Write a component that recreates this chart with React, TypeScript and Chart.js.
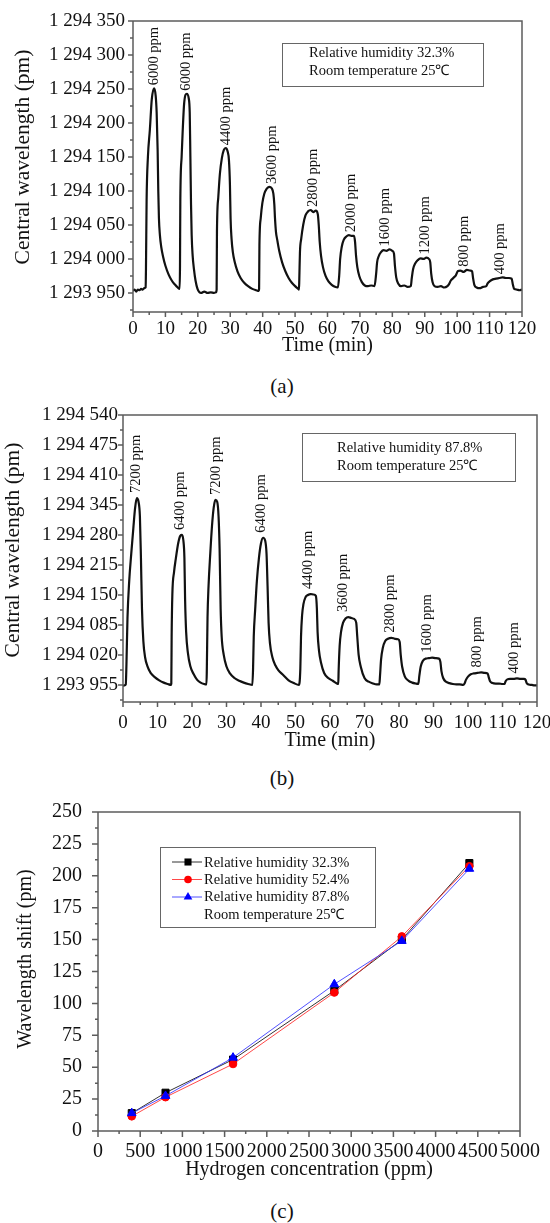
import React, { useEffect, useRef } from 'react';
import { Chart, registerables } from 'chart.js';

Chart.register(...registerables);

const SERIF = "'Liberation Serif', 'Times New Roman', Times, serif";
const INK = '#111';
const AXIS = '#5c5c5c';

Chart.defaults.font.family = SERIF;
Chart.defaults.color = INK;

// ---------- (a) relative humidity 32.3 % ----------
const timeA = [
  0, 0.5, 1, 1.5, 2, 2.5, 3, 3.5, 3.9,
  4.0, 4.2, 4.6, 5.2, 5.8, 6.5, 7.0, 7.3, 7.6, 7.8, 8.0, 8.3, 8.7, 9.3, 10, 11, 12, 13, 13.8, 14.4,
  14.5, 14.6, 15.0, 15.3, 15.8, 16.6, 17.2, 17.5, 17.7, 17.9, 18.1, 18.4, 18.8, 19.3, 19.9, 20.5,
  21, 22, 23, 24, 25, 25.6,
  25.8, 25.9, 26.3, 26.8, 27.4, 28.0, 28.6, 29.2, 29.6, 29.9, 30.1, 30.4, 30.8, 31.4, 32.2, 33.2, 34.3, 35.5, 36.8, 38.0, 38.8,
  38.9, 39.0, 39.4, 39.9, 40.5, 41.2, 42.0, 42.8, 43.3, 43.6, 43.8, 44.1, 44.5, 45.1, 46, 47, 48, 49, 50, 51, 51.2,
  51.3, 51.5, 51.9, 52.5, 53.2, 54.0, 54.8, 55.6, 56.4, 57.0, 57.3, 57.6, 58.0, 58.6, 59.4, 60.3, 61.3, 62.3, 63.2,
  63.6, 63.9, 64.4, 65.0, 65.8, 66.6, 67.4, 68.2, 68.5, 68.8, 69.2, 69.8, 70.6, 71.5, 72.5, 73.5, 74.5,
  75.0, 75.3, 75.8, 76.5, 77.3, 78.2, 79.1, 80.0, 80.5, 80.8, 81.2, 81.8, 82.7, 83.7, 84.7, 85.7,
  86.0, 86.4, 87.0, 87.8, 88.7, 89.6, 90.5, 91.3, 91.7, 92.0, 92.4, 93.0, 94.0, 95.0, 96.0, 97.0,
  97.5, 98.0, 98.8, 99.6, 100.2, 101.0, 102.0, 103.0, 104.0, 104.6, 104.9, 105.3, 106.0, 107.0, 108.0, 109.0,
  109.4, 110.0, 111.0, 112.0, 113.0, 114.0, 115.0, 116.0, 116.8, 117.2, 117.6, 118.4, 119.2, 120,
];
const wavelengthA = [
  1293953, 1293955, 1293952, 1293955, 1293954, 1293956, 1293955, 1293957, 1293958,
  1293985, 1294087, 1294150, 1294190, 1294235, 1294251, 1294240, 1294215, 1294160, 1294100, 1294060, 1294035, 1294018, 1294003, 1293990, 1293977, 1293968, 1293962, 1293958, 1293956,
  1293990, 1294087, 1294150, 1294185, 1294230, 1294243, 1294236, 1294215, 1294150, 1294080, 1294035, 1294005, 1293985, 1293968, 1293956, 1293951,
  1293950, 1293952, 1293950, 1293951, 1293950, 1293951,
  1293955, 1294040, 1294090, 1294125, 1294148, 1294160, 1294163, 1294158, 1294145, 1294110, 1294060, 1294030, 1294010, 1293995, 1293982, 1293972, 1293965, 1293960, 1293956, 1293954, 1293953,
  1293956, 1294020, 1294060, 1294082, 1294096, 1294103, 1294106, 1294104, 1294096, 1294080, 1294060, 1294040, 1294028, 1294012, 1293995, 1293982, 1293972, 1293965, 1293960, 1293956, 1293955,
  1293970, 1294010, 1294030, 1294050, 1294064, 1294070, 1294072, 1294069, 1294071, 1294066, 1294050, 1294025, 1294005, 1293988, 1293975, 1293967, 1293962, 1293959, 1293958,
  1293975, 1294000, 1294018, 1294028, 1294033, 1294035, 1294034, 1294034, 1294025, 1294005, 1293988, 1293975, 1293966, 1293961, 1293960, 1293961, 1293960,
  1293978, 1293995, 1294004, 1294010, 1294013, 1294012, 1294014, 1294012, 1294008, 1293990, 1293973, 1293964, 1293960, 1293961, 1293959, 1293960,
  1293972, 1293985, 1293993, 1293998, 1294001, 1294000, 1294002, 1294000, 1293995, 1293978, 1293966, 1293960, 1293959, 1293960, 1293958, 1293960,
  1293963, 1293968, 1293972, 1293976, 1293982, 1293983, 1293981, 1293984, 1293983, 1293982, 1293972, 1293962, 1293958, 1293957, 1293959, 1293960,
  1293964, 1293967, 1293970, 1293971, 1293972, 1293973, 1293972, 1293972, 1293971, 1293962, 1293956, 1293955, 1293954, 1293955,
];
const pulseTextA = ['6000 ppm', '6000 ppm', '4400 ppm', '3600 ppm', '2800 ppm', '2000 ppm', '1600 ppm', '1200 ppm', '800 ppm', '400 ppm'];
const pulseTimeA = [6.5, 16.5, 28.7, 43, 55.5, 67.2, 77.9, 90.2, 102.3, 113.2];
const noteA = ['Relative humidity 32.3%', 'Room temperature 25\u2103'];
const wavelengthTicksA = [1293950, 1294000, 1294050, 1294100, 1294150, 1294200, 1294250, 1294300, 1294350];

// ---------- (b) relative humidity 87.8 % ----------
const timeB = [
  0, 0.4, 0.8,
  1.0, 1.3, 1.8, 2.4, 3.0, 3.5, 4.0, 4.5, 4.9, 5.2, 5.5, 5.9, 6.4, 7.1, 8.0, 9.2, 10.5, 11.8, 13.0, 13.9,
  14.0, 14.1, 14.3, 14.8, 15.3, 16.0, 16.6, 17.1, 17.5, 17.8, 18.0, 18.3, 18.8, 19.5, 20.5, 21.5, 22.5, 23.5, 24.2,
  24.3, 24.5, 24.8, 25.3, 25.8, 26.3, 26.8, 27.3, 27.7, 28.0, 28.3, 28.6, 29.2, 30.0, 31.0, 32.3, 33.7, 35.0, 36.3, 37.5,
  37.7, 37.9, 38.3, 38.8, 39.4, 40.0, 40.6, 41.2, 41.6, 41.9, 42.2, 42.6, 43.3, 44.2, 45.0, 46.5, 48.0, 49.5, 51.0,
  51.4, 51.6, 51.9, 52.3, 52.9, 53.6, 54.4, 55.2, 55.9, 56.2, 56.4, 56.8, 57.4, 58.3, 59.5, 60.8, 62.0, 62.4,
  62.5, 62.8, 63.2, 63.8, 64.5, 65.3, 66.2, 67.0, 67.6, 67.9, 68.3, 68.9, 70.0, 71.2, 72.5, 73.5, 74.3,
  74.5, 74.8, 75.3, 76.0, 76.8, 77.8, 78.8, 79.7, 80.2, 80.5, 80.9, 81.7, 82.8, 83.8, 84.8, 85.6,
  85.9, 86.3, 86.9, 87.7, 88.6, 89.6, 90.6, 91.6, 92.0, 92.3, 92.8, 93.6, 94.6, 95.6, 96.6, 97.6, 98.6,
  99.0, 99.4, 100.0, 100.8, 101.7, 102.7, 103.8, 104.8, 105.7, 106.0, 106.4, 107.1, 108.0, 109.0, 110.0, 110.6,
  110.9, 111.4, 112.2, 113.2, 114.2, 115.2, 116.2, 116.7, 117.0, 117.6, 118.5, 119.3, 120,
];
const wavelengthB = [
  1293953, 1293954, 1293956,
  1294000, 1294100, 1294180, 1294240, 1294295, 1294338, 1294360, 1294352, 1294320, 1294230, 1294120, 1294050, 1294015, 1293995, 1293981, 1293972, 1293965, 1293960, 1293957, 1293955,
  1293958, 1294060, 1294150, 1294200, 1294228, 1294262, 1294278, 1294280, 1294268, 1294230, 1294140, 1294070, 1294025, 1293996, 1293978, 1293966, 1293960, 1293957, 1293956,
  1293990, 1294100, 1294170, 1294240, 1294300, 1294340, 1294356, 1294352, 1294320, 1294250, 1294120, 1294060, 1294020, 1293995, 1293980, 1293970, 1293964, 1293960, 1293957, 1293955,
  1293990, 1294060, 1294117, 1294180, 1294230, 1294262, 1294274, 1294268, 1294240, 1294170, 1294090, 1294045, 1294015, 1293997, 1293987, 1293976, 1293965, 1293959, 1293955,
  1293990, 1294060, 1294105, 1294130, 1294145, 1294150, 1294152, 1294151, 1294148, 1294120, 1294070, 1294030, 1294003, 1293981, 1293970, 1293964, 1293958, 1293957,
  1293985, 1294040, 1294070, 1294090, 1294099, 1294102, 1294100, 1294098, 1294090, 1294060, 1294020, 1293995, 1293970, 1293962, 1293958, 1293956, 1293956,
  1293975, 1294010, 1294035, 1294050, 1294055, 1294057, 1294055, 1294054, 1294048, 1294020, 1293995, 1293973, 1293964, 1293960, 1293958, 1293957,
  1293975, 1293995, 1294007, 1294012, 1294013, 1294014, 1294013, 1294012, 1294005, 1293985, 1293970, 1293962, 1293959, 1293957, 1293956, 1293956, 1293955,
  1293958, 1293966, 1293973, 1293978, 1293980, 1293981, 1293982, 1293981, 1293980, 1293972, 1293963, 1293959, 1293958, 1293958, 1293957, 1293957,
  1293963, 1293967, 1293968, 1293968, 1293969, 1293968, 1293968, 1293966, 1293959, 1293956, 1293955, 1293954, 1293954,
];
const pulseTextB = ['7200 ppm', '6400 ppm', '7200 ppm', '6400 ppm', '4400 ppm', '3600 ppm', '2800 ppm', '1600 ppm', '800 ppm', '400 ppm'];
const pulseTimeB = [3.9, 16.5, 27, 40.1, 53.6, 63.8, 77.5, 88.3, 102.6, 113.3];
const noteB = ['Relative humidity 87.8%', 'Room temperature 25\u2103'];
const wavelengthTicksB = [1293955, 1294020, 1294085, 1294150, 1294215, 1294280, 1294345, 1294410, 1294475, 1294540];

const timeTicks = [0, 10, 20, 30, 40, 50, 60, 70, 80, 90, 100, 110, 120];

// ---------- (c) wavelength shift vs hydrogen concentration ----------
const concentration = [400, 800, 1600, 2800, 3600, 4400];
const shiftRH323 = [14, 30, 56, 110, 150, 210];
const shiftRH524 = [11.5, 26.5, 52.5, 108.5, 152.5, 207.5];
const shiftRH878 = [14, 27.5, 57.5, 115, 149, 205.5];
const seriesLabelsC = ['Relative humidity 32.3%', 'Relative humidity 52.4%', 'Relative humidity 87.8%'];
const noteC = 'Room temperature 25\u2103';
const shiftTicks = [0, 25, 50, 75, 100, 125, 150, 175, 200, 225, 250];
const concentrationTicks = [0, 500, 1000, 1500, 2000, 2500, 3000, 3500, 4000, 4500, 5000];

// ---------- helpers ----------
const spaced = (v: number) => String(Math.round(v)).replace(/\B(?=(\d{3})+(?!\d))/g, ' ');

function halfSteps(major: number[], lo: number, hi: number) {
  const step = major[1] - major[0];
  return [major[0] - step / 2, ...major.map((v) => v + step / 2)].filter((v) => v >= lo && v <= hi);
}

const clearGrid = (len: number) => ({
  display: true,
  drawOnChartArea: false,
  drawTicks: true,
  tickLength: len,
  color: 'rgba(0,0,0,0)',
});

// Box around the plot area, tick marks on both axes, and the rotated y-axis title
function axisFrame(cfg: any) {
  return {
    id: 'axisFrame',
    afterDraw(chart: any) {
      const { ctx, chartArea: a, scales } = chart;
      const xs = scales.x;
      const ys = scales.y;
      ctx.save();
      ctx.strokeStyle = AXIS;
      ctx.lineWidth = 1.5;
      ctx.beginPath();
      ctx.rect(a.left, a.top, a.right - a.left, a.bottom - a.top);
      const xTick = (v: number, len: number) => {
        const p = xs.getPixelForValue(v);
        ctx.moveTo(p, a.bottom);
        ctx.lineTo(p, a.bottom + len);
      };
      const yTick = (v: number, len: number) => {
        const p = ys.getPixelForValue(v);
        ctx.moveTo(a.left, p);
        ctx.lineTo(a.left - len, p);
      };
      cfg.xMajor.forEach((v: number) => xTick(v, cfg.major));
      cfg.xMinor.forEach((v: number) => xTick(v, cfg.minor));
      cfg.yMajor.forEach((v: number) => yTick(v, cfg.major));
      cfg.yMinor.forEach((v: number) => yTick(v, cfg.minor));
      ctx.stroke();

      const t = cfg.yTitle;
      ctx.translate(t.cx, t.cy);
      ctx.rotate(-Math.PI / 2);
      ctx.fillStyle = INK;
      ctx.font = `${t.size}px ${SERIF}`;
      ctx.textAlign = 'center';
      ctx.textBaseline = 'middle';
      ctx.fillText(t.text, 0, 0);
      ctx.restore();
    },
  };
}

// Rotated concentration labels above each pulse and the condition box
function pulseNotes(cfg: any) {
  return {
    id: 'pulseNotes',
    afterDatasetsDraw(chart: any) {
      const { ctx, chartArea: a, scales } = chart;
      const xs = scales.x;
      const ys = scales.y;
      ctx.save();
      ctx.fillStyle = INK;
      ctx.font = `14.5px ${SERIF}`;
      cfg.text.forEach((label: string, i: number) => {
        const t = cfg.time[i];
        let peak = -Infinity;
        cfg.seriesT.forEach((tt: number, j: number) => {
          if (Math.abs(tt - t) <= 3 && cfg.seriesV[j] > peak) peak = cfg.seriesV[j];
        });
        ctx.save();
        ctx.translate(xs.getPixelForValue(t), ys.getPixelForValue(peak) - cfg.gap);
        ctx.rotate(-Math.PI / 2);
        ctx.textAlign = 'left';
        ctx.textBaseline = 'middle';
        ctx.fillText(label, 0, 0);
        ctx.restore();
      });
      const b = cfg.box;
      ctx.strokeStyle = '#666';
      ctx.lineWidth = 1;
      ctx.strokeRect(a.left + b.x + 0.5, a.top + b.y + 0.5, b.w, b.h);
      ctx.textAlign = 'left';
      ctx.textBaseline = 'alphabetic';
      cfg.note.forEach((line: string, i: number) => ctx.fillText(line, a.left + b.tx, a.top + b.base[i]));
      ctx.restore();
    },
  };
}

function timeSeriesConfig(p: any) {
  const points = p.time.map((t: number, i: number) => ({ x: t, y: p.values[i] }));
  return {
    type: 'line',
    data: {
      datasets: [
        {
          data: points,
          borderColor: INK,
          borderWidth: 2.2,
          pointRadius: 0,
          cubicInterpolationMode: 'monotone',
          fill: false,
        },
      ],
    },
    options: {
      responsive: false,
      animation: false,
      devicePixelRatio: 1,
      events: [],
      layout: { padding: { top: p.padTop, right: p.padRight, bottom: 0, left: 0 } },
      plugins: { legend: { display: false }, tooltip: { enabled: false } },
      scales: {
        x: {
          type: 'linear',
          min: 0,
          max: 120,
          afterBuildTicks: (s: any) => {
            s.ticks = timeTicks.map((value) => ({ value }));
          },
          afterFit: (s: any) => {
            s.height = p.xAxisHeight;
            s.paddingLeft = 0;
            s.paddingRight = 0;
          },
          ticks: {
            autoSkip: false,
            maxRotation: 0,
            minRotation: 0,
            padding: p.xTickPad,
            color: INK,
            font: { family: SERIF, size: 19 },
            callback: (v: number) => String(v),
          },
          grid: clearGrid(5),
          border: { display: false },
          title: {
            display: true,
            text: 'Time (min)',
            color: INK,
            font: { family: SERIF, size: 20 },
            padding: { top: 0, bottom: p.xTitlePad },
          },
        },
        y: {
          type: 'linear',
          min: p.yMin,
          max: p.yMax,
          afterBuildTicks: (s: any) => {
            s.ticks = p.yTicks.map((value: number) => ({ value }));
          },
          afterFit: (s: any) => {
            s.width = p.yAxisWidth;
            s.paddingTop = 0;
            s.paddingBottom = 0;
          },
          ticks: {
            autoSkip: false,
            padding: p.yTickPad,
            color: INK,
            font: { family: SERIF, size: 19 },
            callback: (v: number) => spaced(v),
          },
          grid: clearGrid(5),
          border: { display: false },
          title: { display: false },
        },
      },
    },
    plugins: [
      axisFrame({
        xMajor: timeTicks,
        xMinor: halfSteps(timeTicks, 0, 120),
        yMajor: p.yTicks,
        yMinor: halfSteps(p.yTicks, p.yMin, p.yMax),
        major: 5,
        minor: 3,
        yTitle: { text: 'Central wavelength (pm)', size: 21.5, cx: p.yTitleX, cy: p.yTitleY },
      }),
      pulseNotes({
        text: p.pulseText,
        time: p.pulseTime,
        seriesT: p.time,
        seriesV: p.values,
        gap: p.labelGap,
        note: p.note,
        box: p.box,
      }),
    ],
  };
}

function drawMarker(ctx: any, style: string, x: number, y: number, r: number, color: string) {
  ctx.fillStyle = color;
  ctx.beginPath();
  if (style === 'rect') {
    const s = r * Math.SQRT1_2;
    ctx.rect(x - s, y - s, 2 * s, 2 * s);
  } else if (style === 'circle') {
    ctx.arc(x, y, r, 0, Math.PI * 2);
  } else {
    ctx.moveTo(x, y - r);
    ctx.lineTo(x + r * 0.866, y + r * 0.5);
    ctx.lineTo(x - r * 0.866, y + r * 0.5);
    ctx.closePath();
  }
  ctx.fill();
}

// Boxed legend for the three humidity series and the temperature note
const humidityLegend = {
  id: 'humidityLegend',
  afterDraw(chart: any) {
    const { ctx, chartArea: a } = chart;
    const left = a.left + 62;
    const top = a.top + 35;
    ctx.save();
    ctx.strokeStyle = '#666';
    ctx.lineWidth = 1;
    ctx.strokeRect(left + 0.5, top + 0.5, 215, 80);
    ctx.font = `14.5px ${SERIF}`;
    ctx.textAlign = 'left';
    ctx.textBaseline = 'alphabetic';
    const rows = [15, 32.5, 50];
    const baselines = [20.3, 37, 54.3, 71.6];
    chart.data.datasets.forEach((ds: any, i: number) => {
      const cy = top + rows[i];
      ctx.strokeStyle = ds.borderColor;
      ctx.lineWidth = 1;
      ctx.beginPath();
      ctx.moveTo(left + 12, cy);
      ctx.lineTo(left + 42, cy);
      ctx.stroke();
      drawMarker(ctx, ds.pointStyle, left + 28, cy, ds.pointRadius, ds.pointBackgroundColor);
      ctx.fillStyle = INK;
      ctx.fillText(ds.label, left + 44, top + baselines[i]);
    });
    ctx.fillStyle = INK;
    ctx.fillText(noteC, left + 44, top + baselines[3]);
    ctx.restore();
  },
};

function shiftConfig() {
  const series = [
    { label: seriesLabelsC[0], values: shiftRH323, line: '#333', fill: '#000', style: 'rect', r: 5, order: 2 },
    { label: seriesLabelsC[1], values: shiftRH524, line: 'rgba(255,40,40,0.85)', fill: '#ff0000', style: 'circle', r: 3.8, order: 1 },
    { label: seriesLabelsC[2], values: shiftRH878, line: 'rgba(50,50,255,0.85)', fill: '#0000ff', style: 'triangle', r: 5, order: 0 },
  ];
  return {
    type: 'line',
    data: {
      datasets: series.map((s) => ({
        label: s.label,
        data: concentration.map((c, i) => ({ x: c, y: s.values[i] })),
        borderColor: s.line,
        borderWidth: 1,
        pointStyle: s.style,
        pointRadius: s.r,
        pointBackgroundColor: s.fill,
        pointBorderColor: s.fill,
        pointBorderWidth: 1,
        order: s.order,
        fill: false,
        tension: 0,
      })),
    },
    options: {
      responsive: false,
      animation: false,
      devicePixelRatio: 1,
      events: [],
      layout: { padding: { top: 22, right: 30, bottom: 0, left: 0 } },
      plugins: { legend: { display: false }, tooltip: { enabled: false } },
      scales: {
        x: {
          type: 'linear',
          min: 0,
          max: 5000,
          afterBuildTicks: (s: any) => {
            s.ticks = concentrationTicks.map((value) => ({ value }));
          },
          afterFit: (s: any) => {
            s.height = 64;
            s.paddingLeft = 0;
            s.paddingRight = 0;
          },
          ticks: {
            autoSkip: false,
            maxRotation: 0,
            minRotation: 0,
            padding: 3,
            color: INK,
            font: { family: SERIF, size: 20 },
            callback: (v: number) => String(v),
          },
          grid: clearGrid(6),
          border: { display: false },
          title: {
            display: true,
            text: 'Hydrogen concentration (ppm)',
            color: INK,
            font: { family: SERIF, size: 20 },
            padding: { top: 0, bottom: 13 },
          },
        },
        y: {
          type: 'linear',
          min: 0,
          max: 250,
          afterBuildTicks: (s: any) => {
            s.ticks = shiftTicks.map((value) => ({ value }));
          },
          afterFit: (s: any) => {
            s.width = 98;
            s.paddingTop = 0;
            s.paddingBottom = 0;
          },
          ticks: {
            autoSkip: false,
            padding: 10,
            color: INK,
            font: { family: SERIF, size: 20 },
            callback: (v: number) => String(v),
          },
          grid: clearGrid(6),
          border: { display: false },
          title: { display: false },
        },
      },
    },
    plugins: [
      axisFrame({
        xMajor: concentrationTicks,
        xMinor: halfSteps(concentrationTicks, 0, 5000),
        yMajor: shiftTicks,
        yMinor: halfSteps(shiftTicks, 0, 250),
        major: 6,
        minor: 3,
        yTitle: { text: 'Wavelength shift (pm)', size: 20, cx: 26, cy: 169 },
      }),
      humidityLegend,
    ],
  };
}

function ChartCanvas({ top, height, build }: { top: number; height: number; build: () => any }) {
  const ref = useRef<HTMLCanvasElement | null>(null);
  useEffect(() => {
    const chart = new Chart(ref.current as HTMLCanvasElement, build());
    return () => chart.destroy();
  }, []);
  return (
    <canvas
      ref={ref}
      width={550}
      height={height}
      style={{ position: 'absolute', left: 0, top, width: 550, height }}
    />
  );
}

function Caption({ text, top }: { text: string; top: number }) {
  return (
    <div
      style={{
        position: 'absolute',
        left: 232,
        top,
        width: 100,
        height: 24,
        lineHeight: '24px',
        fontSize: 21,
        fontFamily: SERIF,
        color: INK,
        textAlign: 'center',
      }}
    >
      {text}
    </div>
  );
}

export default function App() {
  return (
    <div style={{ position: 'absolute', left: 0, top: 0, width: 550, height: 1223, background: '#fff', overflow: 'hidden' }}>
      <ChartCanvas
        top={0}
        height={362}
        build={() =>
          timeSeriesConfig({
            time: timeA,
            values: wavelengthA,
            yMin: 1293922,
            yMax: 1294350,
            yTicks: wavelengthTicksA,
            pulseText: pulseTextA,
            pulseTime: pulseTimeA,
            note: noteA,
            padTop: 21,
            padRight: 28,
            xAxisHeight: 50,
            yAxisWidth: 133,
            xTickPad: 1,
            yTickPad: 3,
            xTitlePad: 4,
            yTitleX: 23,
            yTitleY: 157,
            labelGap: 3,
            box: { x: 149, y: 22, w: 201, h: 43, tx: 176, base: [36.3, 54.3] },
          })
        }
      />
      <Caption text="(a)" top={374} />
      <ChartCanvas
        top={395}
        height={365}
        build={() =>
          timeSeriesConfig({
            time: timeB,
            values: wavelengthB,
            yMin: 1293918,
            yMax: 1294540,
            yTicks: wavelengthTicksB,
            pulseText: pulseTextB,
            pulseTime: pulseTimeB,
            note: noteB,
            padTop: 20,
            padRight: 13,
            xAxisHeight: 58,
            yAxisWidth: 123,
            xTickPad: 5,
            yTickPad: 0,
            xTitlePad: 7,
            yTitleX: 13,
            yTitleY: 155,
            labelGap: 5,
            box: { x: 179, y: 18, w: 213, h: 48, tx: 214, base: [36.9, 54.6] },
          })
        }
      />
      <Caption text="(b)" top={766} />
      <ChartCanvas top={790} height={405} build={shiftConfig} />
      <Caption text="(c)" top={1199} />
    </div>
  );
}
